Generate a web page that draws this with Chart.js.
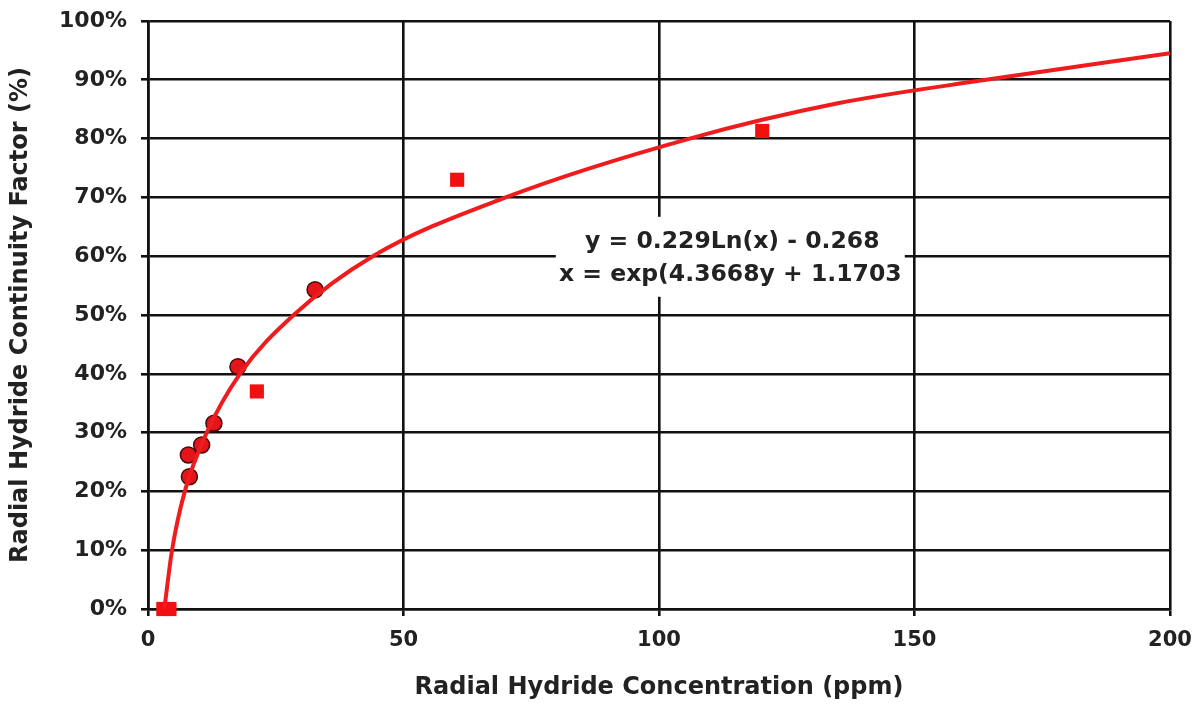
<!DOCTYPE html>
<html>
<head>
<meta charset="utf-8">
<script src="https://cdn.jsdelivr.net/npm/chart.js@4/dist/chart.umd.min.js"></script>
<style>
  html, body { margin: 0; padding: 0; background: #fff; }
  #wrap { width: 1200px; height: 706px; }
</style>
</head>
<body>
<div id="wrap"><canvas id="hydrideChart"></canvas></div>
<script>
// trendline (ppm, %)
const curveX = [3.2, 4.7, 7.2, 11.5, 18, 28.5, 44, 70, 106, 135, 164, 200];
const curveY = [0, 10, 20, 30, 40, 50, 60, 70, 80, 86, 90, 94.5];

// round markers
const circleX = [7.9, 8.1, 10.5, 12.9, 17.6, 32.7];
const circleY = [26.2, 22.5, 27.9, 31.6, 41.2, 54.3];

// square markers
const squareX = [3, 4.2, 21.3, 60.5, 120.2];
const squareY = [0, 0, 37, 73, 81.3];

const xTicks = [0, 50, 100, 150, 200];
const equationLines = ['y = 0.229Ln(x) - 0.268', 'x = exp(4.3668y + 1.1703'];

const toPoints = (xs, ys) => xs.map((x, i) => ({ x: x, y: ys[i] }));

const FONT = 'DejaVu Sans';
const TEXT = '#222';

// white box with the fit equation
const equationBox = {
  id: 'equationBox',
  afterDraw(chart) {
    const { ctx, scales } = chart;
    const x1 = scales.x.getPixelForValue(79.8);
    const x2 = scales.x.getPixelForValue(148.1);
    const y1 = scales.y.getPixelForValue(66.7);
    const y2 = scales.y.getPixelForValue(53.1);
    ctx.save();
    ctx.fillStyle = '#fff';
    ctx.fillRect(x1, y1, x2 - x1, y2 - y1);
    ctx.fillStyle = TEXT;
    ctx.font = 'bold 23.5px ' + FONT;
    ctx.textAlign = 'center';
    ctx.textBaseline = 'middle';
    const cx = (x1 + x2) / 2;
    ctx.fillText(equationLines[0], cx + 2, y1 + 25);
    ctx.fillText(equationLines[1], cx, y1 + 58);
    ctx.restore();
  }
};

const config = {
  type: 'scatter',
  data: {
    datasets: [
      {
        data: toPoints(curveX, curveY),
        showLine: true,
        borderColor: '#ee1c1c',
        borderWidth: 4,
        pointRadius: 0,
        cubicInterpolationMode: 'monotone',
        clip: false
      },
      {
        data: toPoints(circleX, circleY),
        pointStyle: 'circle',
        pointRadius: 8,
        backgroundColor: '#e3141a',
        borderColor: '#4a0a0a',
        borderWidth: 1.5,
        clip: false
      },
      {
        data: toPoints(squareX, squareY),
        pointStyle: 'rect',
        pointRadius: 10,
        backgroundColor: '#f01010',
        borderWidth: 0,
        clip: false
      }
    ]
  },
  options: {
    responsive: true,
    maintainAspectRatio: false,
    animation: false,
    layout: { padding: { top: 21, right: 30, left: 0, bottom: 0 } },
    plugins: {
      legend: { display: false },
      tooltip: { enabled: false }
    },
    scales: {
      x: {
        type: 'linear',
        min: 0,
        max: 200,
        afterBuildTicks: (scale) => { scale.ticks = xTicks.map(v => ({ value: v })); },
        afterFit: (scale) => {
          scale.height = 97;
          scale.paddingLeft = 0;
          scale.paddingRight = 0;
        },
        grid: { color: '#111', lineWidth: 2.6, tickLength: 7 },
        border: { color: '#111', width: 2.6 },
        ticks: { color: TEXT, padding: 12, font: { family: FONT, size: 21, weight: 'bold' } },
        title: {
          display: true,
          text: 'Radial Hydride Concentration (ppm)',
          color: TEXT,
          padding: { top: 0, bottom: 4 },
          font: { family: FONT, size: 24, weight: 'bold' }
        }
      },
      y: {
        min: 0,
        max: 100,
        afterFit: (scale) => {
          scale.width = 148;
          scale.paddingTop = 0;
          scale.paddingBottom = 0;
        },
        grid: { color: '#111', lineWidth: 2.6, tickLength: 7 },
        border: { color: '#111', width: 2.6 },
        ticks: {
          stepSize: 10,
          color: TEXT,
          padding: 14,
          font: { family: FONT, size: 22, weight: 'bold' },
          callback: (v) => v + '%'
        },
        title: {
          display: true,
          text: 'Radial Hydride Continuity Factor (%)',
          color: TEXT,
          padding: { top: 6, bottom: 0 },
          font: { family: FONT, size: 24, weight: 'bold' }
        }
      }
    }
  },
  plugins: [equationBox]
};

new Chart(document.getElementById('hydrideChart'), config);
</script>
</body>
</html>
